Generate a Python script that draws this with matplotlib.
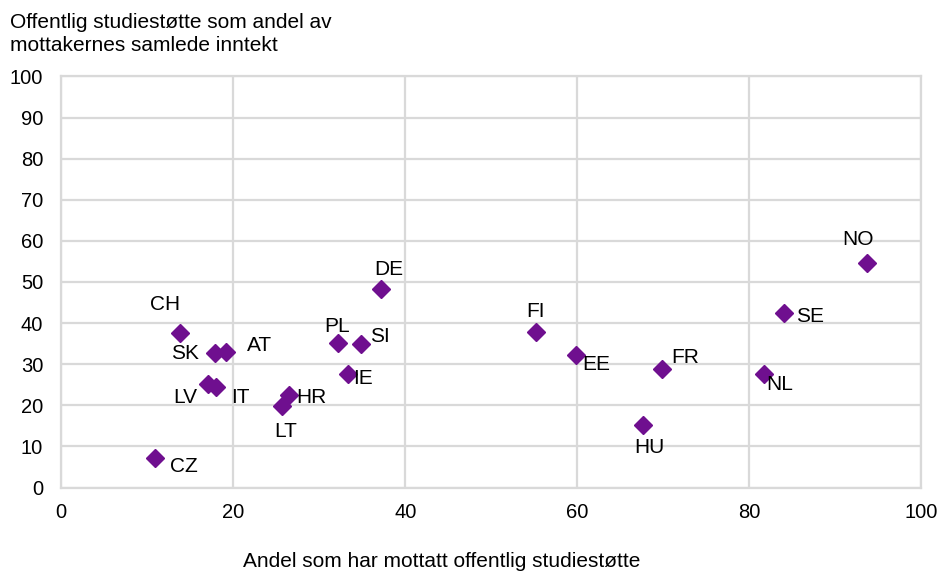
import matplotlib
matplotlib.use("Agg")
import matplotlib.pyplot as plt

plt.rcParams["font.family"] = ["Liberation Sans", "DejaVu Sans"]

countries = ["CZ", "CH", "SK", "AT", "LV", "IT", "HR", "LT", "PL", "SI",
             "IE", "DE", "FI", "EE", "FR", "HU", "NL", "SE", "NO"]
share_received = [10.9, 13.8, 17.9, 19.2, 17.1, 18.0, 26.5, 25.7, 32.2, 34.9,
                  33.4, 37.2, 55.2, 59.9, 69.9, 67.7, 81.7, 84.0, 93.7]
share_income = [7.3, 37.7, 32.7, 32.9, 25.1, 24.4, 22.5, 19.8, 35.2, 34.8,
                27.5, 48.2, 37.8, 32.2, 28.8, 15.2, 27.6, 42.5, 54.7]

# label offsets in pixels (dx, dy) from each marker
label_offsets = {
    "CZ": (29, -9), "CH": (-15, 28), "SK": (-30, 0), "AT": (33, 7),
    "LV": (-23, -13), "IT": (24, -10), "HR": (22, -2), "LT": (3, -25),
    "PL": (-1, 16), "SI": (19, 8), "IE": (15, -4), "DE": (8, 20),
    "FI": (0, 21), "EE": (20, -9), "FR": (23, 12), "HU": (6, -22),
    "NL": (16, -10), "SE": (26, -4), "NO": (-9, 23),
}

fig = plt.figure(figsize=(9.41, 5.72), dpi=100)
ax = fig.add_axes([0.065, 0.1477, 0.914, 0.7186])

ax.plot(share_received, share_income, linestyle="none", marker="D",
        markersize=9.5, color="#6f0f8f", zorder=3)

for name, x, y in zip(countries, share_received, share_income):
    dx, dy = label_offsets[name]
    ax.annotate(name, (x, y), xytext=(dx, dy), textcoords="offset pixels",
                ha="center", va="center", fontsize=15, color="#000000")

ax.set_xlim(0, 100)
ax.set_ylim(0, 100)
ax.set_xticks(range(0, 101, 20))
ax.set_yticks(range(0, 101, 10))
ax.grid(True, color="#d9d9d9", linewidth=1.6)
ax.set_axisbelow(True)
for s in ax.spines.values():
    s.set_color("#d9d9d9")
    s.set_linewidth(1.6)
ax.tick_params(length=0, labelsize=14.5, colors="#000000")
ax.tick_params(axis="y", pad=13)
ax.tick_params(axis="x", pad=11)

fig.text(0.011, 0.941, "Offentlig studiestøtte som andel av\nmottakernes samlede inntekt",
         fontsize=15, ha="left", va="center", linespacing=1.25)
fig.text(0.469, 0.0175, "Andel som har mottatt offentlig studiestøtte",
         fontsize=15, ha="center", va="center")

fig.savefig("out.png", dpi=100)
